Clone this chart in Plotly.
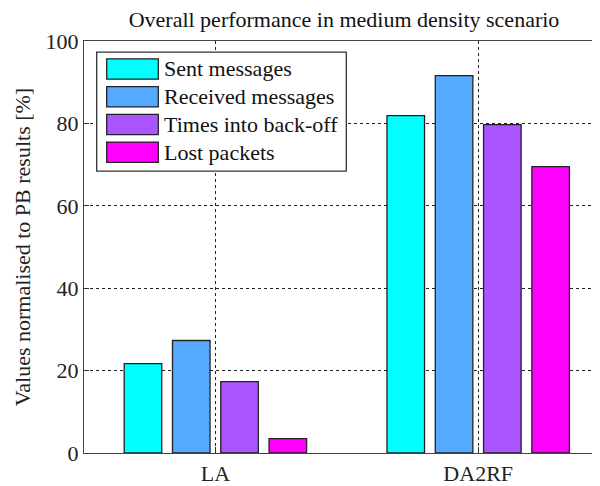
import plotly.graph_objects as go

categories = ["LA", "DA2RF"]
series_names = ["Sent messages", "Received messages", "Times into back-off", "Lost packets"]
sent = [21.7, 81.9]
received = [27.3, 91.6]
backoff = [17.3, 79.7]
lost = [3.5, 69.5]
colors = ["#00FFFF", "#55AAFF", "#AA55FF", "#FF00FF"]
y_ticks = [0, 20, 40, 60, 80, 100]

series_values = [sent, received, backoff, lost]
x_pos = list(range(len(categories)))

FONT = "Liberation Serif, Times New Roman, serif"
OFF = 8  # page body margin
W, H = 600 - OFF, 486 - OFF
L, R, T, B = 84 - OFF, 0, 41 - OFF, 486 - 458
pw, ph = W - L - R, H - T - B

fig = go.Figure()
for name, vals, col in zip(series_names, series_values, colors):
    fig.add_trace(go.Bar(
        x=x_pos, y=vals, name=name,
        marker=dict(color=col, line=dict(color="#222222", width=1.3)),
        showlegend=False,
    ))

# screen px -> paper coords
def px_x(px):
    return (px - OFF - L) / pw

def px_y(py):
    return (H - B - (py - OFF)) / ph

shapes = [dict(type="rect", xref="paper", yref="paper",
               x0=px_x(96.7), x1=px_x(346.3), y0=px_y(172.7), y1=px_y(52.3),
               line=dict(color="#333333", width=1.3), fillcolor="white", layer="above")]
annotations = []
row_centers = [69.3, 97.4, 125.5, 153.6]
for name, col, cy in zip(series_names, colors, row_centers):
    shapes.append(dict(type="rect", xref="paper", yref="paper",
                       x0=px_x(106.7), x1=px_x(158.3), y0=px_y(cy + 10.3), y1=px_y(cy - 10.3),
                       line=dict(color="#222222", width=1.3), fillcolor=col, layer="above"))
    annotations.append(dict(xref="paper", yref="paper", x=px_x(162), y=px_y(cy),
                            xanchor="left", yanchor="middle", showarrow=False,
                            text=name, font=dict(family=FONT, size=22, color="#111111")))

fig.update_layout(
    width=W, height=H,
    margin=dict(l=L, r=R, t=T, b=B, pad=0),
    paper_bgcolor="white", plot_bgcolor="white",
    barmode="group", bargap=0.265, bargroupgap=0.222,
    title=dict(text="Overall performance in medium density scenario",
               font=dict(family=FONT, size=22, color="#111111"),
               xref="paper", x=px_x(344), xanchor="center",
               yref="container", y=1 - (19 - OFF) / H, yanchor="middle"),
    shapes=shapes, annotations=annotations,
    font=dict(family=FONT, color="#222222"),
)
fig.update_xaxes(
    range=[-0.5, -0.5 + pw / 262.8], tickvals=x_pos, ticktext=categories,
    showgrid=True, gridcolor="#222222", griddash="3px,3px", gridwidth=1,
    showline=True, linecolor="#444444", linewidth=1.3, mirror=True,
    ticks="inside", ticklen=6, tickcolor="#333333",
    tickfont=dict(family=FONT, size=22, color="#222222"),
    zeroline=False,
)
fig.update_yaxes(
    range=[0, 100], tickvals=y_ticks,
    showgrid=True, gridcolor="#222222", griddash="3px,3px", gridwidth=1,
    showline=True, linecolor="#444444", linewidth=1.3,
    ticks="inside", ticklen=5, tickcolor="#333333",
    tickfont=dict(family=FONT, size=22, color="#222222"),
    title=dict(text="Values normalised to PB results [%]",
               font=dict(family=FONT, size=22, color="#222222"), standoff=8),
    zeroline=False,
)
fig.write_html("out.html")
